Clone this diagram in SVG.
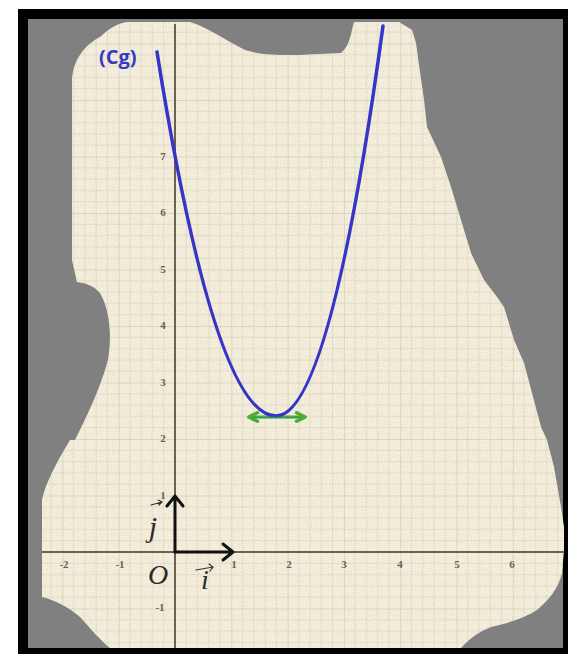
<svg xmlns="http://www.w3.org/2000/svg" width="568" height="654" viewBox="0 0 568 654">
  <style>
    .tick { font-family: "Liberation Serif", "DejaVu Serif", serif; font-size: 11px; font-weight: bold; fill: #6a6252; text-anchor: middle; }
    .hand { font-family: "Liberation Serif", "DejaVu Serif", serif; font-style: italic; fill: #2a2a2a; text-anchor: middle; }
    .vec { fill: none; stroke: #111; stroke-width: 3; stroke-linecap: round; stroke-linejoin: round; }
    .small { fill: none; stroke: #333; stroke-width: 1.2; stroke-linecap: round; }
  </style>
  <defs>
    <pattern id="grid" patternUnits="userSpaceOnUse" x="175" y="552" width="56.3" height="56.5">
      <g stroke="#d6ccb3" stroke-width="0.7" opacity="0.75">
        <line x1="11.26" y1="0" x2="11.26" y2="56.5"/>
        <line x1="22.52" y1="0" x2="22.52" y2="56.5"/>
        <line x1="33.78" y1="0" x2="33.78" y2="56.5"/>
        <line x1="45.04" y1="0" x2="45.04" y2="56.5"/>
        <line x1="0" y1="11.3" x2="56.3" y2="11.3"/>
        <line x1="0" y1="22.6" x2="56.3" y2="22.6"/>
        <line x1="0" y1="33.9" x2="56.3" y2="33.9"/>
        <line x1="0" y1="45.2" x2="56.3" y2="45.2"/>
      </g>
      <g stroke="#c2b79b" stroke-width="1" opacity="0.9">
        <line x1="0" y1="0" x2="0" y2="56.5"/>
        <line x1="0" y1="0" x2="56.3" y2="0"/>
      </g>
    </pattern>
    <filter id="tex" x="0" y="0" width="100%" height="100%">
      <feTurbulence type="fractalNoise" baseFrequency="0.8" numOctaves="2" seed="3" result="n"/>
      <feColorMatrix in="n" type="matrix" values="0 0 0 0 0.6  0 0 0 0 0.55  0 0 0 0 0.45  0 0 0 -1.8 1.1"/>
    </filter>
    <clipPath id="paperClip">
      <path d="M72,83 C72,60 85,45 100,37 C110,28 118,23 128,22 L190,22 C205,26 225,40 245,50 C260,55 275,55 300,55 L341,53 C347,48 350,40 352,30 L354,22 L399,22 L412,30 L416,43 L418,58 L424,100 L427,127 L441,157 L451,187 L461,220 L471,253 L484,280 L497,297 L504,307 L514,340 L524,363 L532,393 L541,427 L547,440 L554,467 L561,507 L564,527 L564,550 L562,573 C558,590 548,600 537,610 C525,618 505,624 491,627 C480,631 470,638 461,648 L110,648 C100,640 92,630 80,617 C70,608 55,600 42,597 L42,500 C45,485 55,465 70,440 L75,440 C85,420 100,390 108,360 C112,335 110,310 100,293 C93,285 85,283 77,282 L72,260 Z"/>
    </clipPath>
    <marker id="gHead" viewBox="0 0 10 10" refX="8" refY="5" markerWidth="4.2" markerHeight="4.2" orient="auto-start-reverse">
      <path d="M1,1 L9,5 L1,9" fill="none" stroke="#4cae2c" stroke-width="2.6" stroke-linejoin="round"/>
    </marker>
  </defs>

  <g id="frame">
    <rect x="0" y="0" width="568" height="654" fill="#ffffff"/>
    <rect x="18" y="9" width="550" height="645" fill="#000000"/>
    <rect x="28" y="19" width="535" height="629" fill="#808080"/>
  </g>

  <g id="paper">
    <path d="M72,83 C72,60 85,45 100,37 C110,28 118,23 128,22 L190,22 C205,26 225,40 245,50 C260,55 275,55 300,55 L341,53 C347,48 350,40 352,30 L354,22 L399,22 L412,30 L416,43 L418,58 L424,100 L427,127 L441,157 L451,187 L461,220 L471,253 L484,280 L497,297 L504,307 L514,340 L524,363 L532,393 L541,427 L547,440 L554,467 L561,507 L564,527 L564,550 L562,573 C558,590 548,600 537,610 C525,618 505,624 491,627 C480,631 470,638 461,648 L110,648 C100,640 92,630 80,617 C70,608 55,600 42,597 L42,500 C45,485 55,465 70,440 L75,440 C85,420 100,390 108,360 C112,335 110,310 100,293 C93,285 85,283 77,282 L72,260 Z" fill="#f6f0de"/>
    <g clip-path="url(#paperClip)">
      <rect x="28" y="19" width="540" height="630" fill="url(#grid)"/>
      <rect x="28" y="19" width="540" height="630" filter="url(#tex)" opacity="0.4"/>
    </g>
  </g>

  <g id="axes" clip-path="url(#paperClip)">
    <line x1="175" y1="24" x2="175" y2="648" stroke="#6b6250" stroke-width="2"/>
    <line x1="40" y1="552" x2="566" y2="552" stroke="#6b6250" stroke-width="2"/>
  </g>

  <g id="ticks">
    <text class="tick" x="64" y="568">-2</text>
    <text class="tick" x="120" y="568">-1</text>
    <text class="tick" x="234" y="568">1</text>
    <text class="tick" x="289" y="568">2</text>
    <text class="tick" x="344" y="568">3</text>
    <text class="tick" x="400" y="568">4</text>
    <text class="tick" x="457" y="568">5</text>
    <text class="tick" x="512" y="568">6</text>
    <text class="tick" x="163" y="160">7</text>
    <text class="tick" x="163" y="216">6</text>
    <text class="tick" x="163" y="273">5</text>
    <text class="tick" x="163" y="329">4</text>
    <text class="tick" x="163" y="386">3</text>
    <text class="tick" x="163" y="442">2</text>
    <text class="tick" x="163" y="499">1</text>
    <text class="tick" x="160" y="611">-1</text>
  </g>

  <g id="connectors">
    <line id="tangent" x1="250" y1="417" x2="304" y2="417" stroke="#4cae2c" stroke-width="3" marker-start="url(#gHead)" marker-end="url(#gHead)"/>
    <path id="curve" d="M157,52 Q215,416 276,416 Q330,416 383,26" fill="none" stroke="#3535c8" stroke-width="3.5" stroke-linecap="round"/>
    <line x1="252" y1="417.5" x2="300" y2="417.5" stroke="#2f9a6a" stroke-width="1.5" opacity="0.8"/>
    <g id="vector-j">
      <path class="vec" d="M175,552 L175,496 M167,506 L175,496 L183,506"/>
    </g>
    <g id="vector-i">
      <path class="vec" d="M175,552 L233,552 M223,544 L233,552 L223,560"/>
    </g>
  </g>

  <g id="labels">
    <text x="99" y="64" font-family="'Open Sans', 'Liberation Sans', sans-serif" font-weight="bold" font-size="20" fill="#3838c8">(Cg)</text>
    <g id="label-j">
      <text class="hand" x="153" y="537" font-size="30">j</text>
      <path class="small" d="M151,505 L162,502 M158,500 L162,502 L159,505"/>
    </g>
    <g id="label-O">
      <text class="hand" x="158" y="584" font-size="28">O</text>
    </g>
    <g id="label-i">
      <text class="hand" x="205" y="589" font-size="28">i</text>
      <path class="small" d="M196,570 L213,567 M209,564 L213,567 L210,571"/>
    </g>
  </g>
</svg>
